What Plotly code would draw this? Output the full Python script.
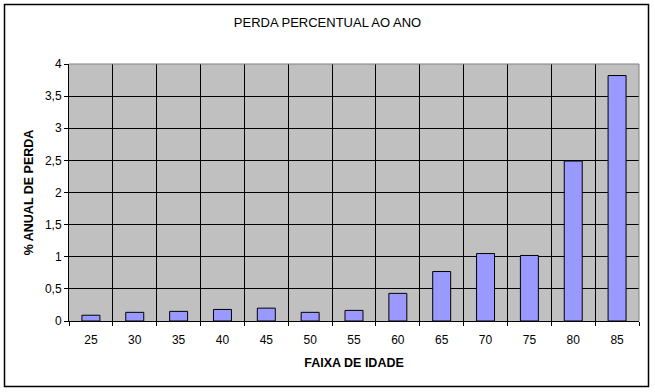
import plotly.graph_objects as go

categories = ["25", "30", "35", "40", "45", "50", "55", "60", "65", "70", "75", "80", "85"]
values = [0.09, 0.135, 0.15, 0.18, 0.2, 0.135, 0.165, 0.43, 0.77, 1.05, 1.02, 2.49, 3.82]
y_ticks = [0, 0.5, 1, 1.5, 2, 2.5, 3, 3.5, 4]

W, H = 655, 392
L, R, T, B = 69, 16, 64, 71
pw, ph = W - L - R, H - T - B

def px_x(x):
    return (x - L) / pw

def px_y(y):
    return (H - B - y) / ph

fig = go.Figure(go.Bar(
    x=categories, y=values,
    marker=dict(color="#9999FF", line=dict(color="black", width=1)),
    width=0.41,
))

fig.update_layout(
    width=W, height=H,
    margin=dict(l=L, r=R, t=T, b=B),
    paper_bgcolor="white",
    plot_bgcolor="#C0C0C0",
    separators=",.",
    font=dict(family="Liberation Sans, Arial, sans-serif", color="black", size=12),
    title=dict(text="PERDA PERCENTUAL AO ANO", x=0.5, xref="container", xanchor="center",
               y=1 - 22 / H, yanchor="middle", font=dict(size=13)),
    showlegend=False,
    xaxis=dict(
        type="category", tickson="boundaries", showgrid=True, gridcolor="black", gridwidth=1,
        ticks="outside", ticklen=4, tickcolor="black", ticklabelstandoff=8,
        showline=True, linecolor="black", mirror=False,
        title=dict(text="<b>FAIXA DE IDADE</b>", font=dict(size=12.5), standoff=11),
        range=[-0.5, 12.5],
    ),
    yaxis=dict(
        range=[0, 4], tickvals=y_ticks, showgrid=True, gridcolor="black", gridwidth=1,
        ticks="outside", ticklen=4, tickcolor="black",
        showline=True, linecolor="black", zeroline=False,
        title=dict(text="<b>% ANUAL DE PERDA</b>", font=dict(size=12.5), standoff=8),
    ),
    shapes=[
        dict(type="line", xref="paper", yref="paper", x0=0, x1=1, y0=1, y1=1,
             line=dict(color="#808080", width=1)),
        dict(type="line", xref="paper", yref="paper", x0=1, x1=1, y0=0, y1=1,
             line=dict(color="#808080", width=1)),
        dict(type="rect", xref="paper", yref="paper",
             x0=px_x(4.5), x1=px_x(648.5), y0=px_y(386.5), y1=px_y(4.5),
             line=dict(color="black", width=1.5), layer="above"),
    ],
)

fig.write_html("out.html", config={"displayModeBar": False},
               post_script="document.body.style.margin='0';")
